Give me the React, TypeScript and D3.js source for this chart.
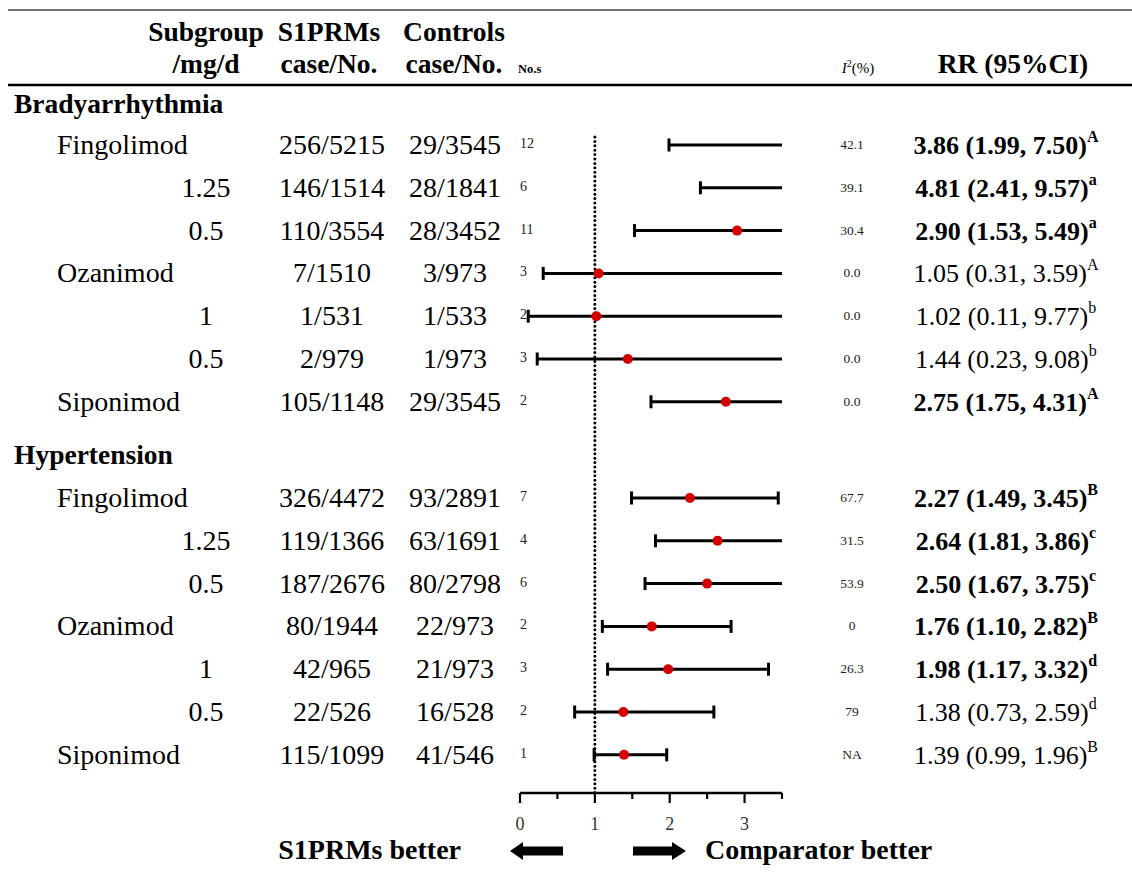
import * as d3 from "d3";

// table rows (two outcome groups, 7 rows each)
const groupNames = ["Bradyarrhythmia", "Hypertension"];
const rowGroup = [0, 0, 0, 0, 0, 0, 0, 1, 1, 1, 1, 1, 1, 1];
const rowLabel = ["Fingolimod", "1.25", "0.5", "Ozanimod", "1", "0.5", "Siponimod",
  "Fingolimod", "1.25", "0.5", "Ozanimod", "1", "0.5", "Siponimod"];
const rowIsDose = [false, true, true, false, true, true, false,
  false, true, true, false, true, true, false];
const s1prmCases = ["256/5215", "146/1514", "110/3554", "7/1510", "1/531", "2/979", "105/1148",
  "326/4472", "119/1366", "187/2676", "80/1944", "42/965", "22/526", "115/1099"];
const controlCases = ["29/3545", "28/1841", "28/3452", "3/973", "1/533", "1/973", "29/3545",
  "93/2891", "63/1691", "80/2798", "22/973", "21/973", "16/528", "41/546"];
const studyCounts = [12, 6, 11, 3, 2, 3, 2, 7, 4, 6, 2, 3, 2, 1];
const i2Values = ["42.1", "39.1", "30.4", "0.0", "0.0", "0.0", "0.0",
  "67.7", "31.5", "53.9", "0", "26.3", "79", "NA"];
const rrValues = [3.86, 4.81, 2.9, 1.05, 1.02, 1.44, 2.75, 2.27, 2.64, 2.5, 1.76, 1.98, 1.38, 1.39];
const ciLow = [1.99, 2.41, 1.53, 0.31, 0.11, 0.23, 1.75, 1.49, 1.81, 1.67, 1.1, 1.17, 0.73, 0.99];
const ciHigh = [7.5, 9.57, 5.49, 3.59, 9.77, 9.08, 4.31, 3.45, 3.86, 3.75, 2.82, 3.32, 2.59, 1.96];
const superscripts = ["A", "a", "a", "A", "b", "b", "A", "B", "c", "c", "B", "d", "d", "B"];

const majorTicks = [0, 1, 2, 3];
const minorTicks = [0.5, 1.5, 2.5, 3.5];

const W = 1132;
const H = 884;
const serif = "'Liberation Serif', 'Times New Roman', serif";

export default function App() {
  const x = d3.scaleLinear().domain([0, 3.5]).range([520, 782]);
  const headerY = [104, 455];
  const firstRowY = [145, 498];
  const rowStep = d3.scaleLinear().domain([0, 6]).range([0, 6 * 42.8]);
  const rowY = (i: number) => firstRowY[rowGroup[i]] + rowStep(i % 7);
  const axisY = 793;
  const fmt = d3.format(".2f");
  const clamp = (v: number) => Math.max(0, Math.min(3.5, v));

  return (
    <svg width={W} height={H} style={{ position: "absolute", left: 0, top: 0, background: "#fff" }}
      fontFamily={serif}>
      {/* table rules */}
      <line x1={8} x2={W} y1={10} y2={10} stroke="#444" strokeWidth={1.6} />
      <line x1={8} x2={W} y1={85} y2={85} stroke="#000" strokeWidth={2.6} />

      {/* column headers */}
      <g fontWeight="bold" fontSize={27.5} textAnchor="middle">
        <text x={206} y={41}>Subgroup</text>
        <text x={206} y={73}>/mg/d</text>
        <text x={329} y={41}>S1PRMs</text>
        <text x={329} y={73}>case/No.</text>
        <text x={454} y={41}>Controls</text>
        <text x={454} y={73}>case/No.</text>
        <text x={1013} y={73}>RR (95%CI)</text>
      </g>
      <text x={518} y={73} fontSize={12.5} fontWeight="bold">No.s</text>
      <text x={858} y={73} fontSize={15} textAnchor="middle">
        <tspan fontStyle="italic">I</tspan>
        <tspan dy={-6} fontSize={10}>2</tspan>
        <tspan dy={6}>(%)</tspan>
      </text>

      {/* group headers */}
      {groupNames.map((g, gi) => (
        <text key={g} x={14} y={headerY[gi] + 9} fontSize={27.5} fontWeight="bold">{g}</text>
      ))}

      {/* table text */}
      {rowLabel.map((lab, i) => {
        const y = rowY(i);
        const sig = ciLow[i] > 1;
        return (
          <g key={i}>
            <text x={rowIsDose[i] ? 206 : 57} y={y + 9} fontSize={28}
              textAnchor={rowIsDose[i] ? "middle" : "start"}>{lab}</text>
            <text x={332} y={y + 9} fontSize={28} textAnchor="middle">{s1prmCases[i]}</text>
            <text x={455} y={y + 9} fontSize={28} textAnchor="middle">{controlCases[i]}</text>
            <text x={520} y={y + 3} fontSize={14} fill="#222">{studyCounts[i]}</text>
            <text x={852} y={y + 4} fontSize={13.5} fill="#222" textAnchor="middle">{i2Values[i]}</text>
            <text x={1006} y={y + 9} fontSize={26} textAnchor="middle" fontWeight={sig ? "bold" : "normal"}>
              {`${fmt(rrValues[i])} (${fmt(ciLow[i])}, ${fmt(ciHigh[i])})`}
              <tspan dy={-12} fontSize={16}>{superscripts[i]}</tspan>
            </text>
          </g>
        );
      })}

      {/* reference line at RR = 1 */}
      <line x1={x(1)} x2={x(1)} y1={137} y2={axisY} stroke="#000" strokeWidth={3}
        strokeDasharray="0 4.4" strokeLinecap="round" />

      {/* confidence intervals */}
      {rrValues.map((rr, i) => {
        const y = rowY(i);
        const x0 = x(clamp(ciLow[i]));
        const x1 = x(clamp(ciHigh[i]));
        return (
          <g key={i}>
            <line x1={x0} x2={x1} y1={y} y2={y} stroke="#000" strokeWidth={3} />
            {ciLow[i] >= 0 && ciLow[i] <= 3.5 && (
              <line x1={x0} x2={x0} y1={y - 6.5} y2={y + 6.5} stroke="#000" strokeWidth={3} />
            )}
            {ciHigh[i] <= 3.5 && (
              <line x1={x1} x2={x1} y1={y - 6.5} y2={y + 6.5} stroke="#000" strokeWidth={3} />
            )}
            {rr <= 3.5 && <circle cx={x(rr)} cy={y} r={5} fill="#d40000" />}
          </g>
        );
      })}

      {/* axis */}
      <line x1={x(0)} x2={x(3.5)} y1={axisY} y2={axisY} stroke="#000" strokeWidth={2.5} />
      {majorTicks.map((t) => (
        <g key={t}>
          <line x1={x(t)} x2={x(t)} y1={axisY} y2={axisY + 10} stroke="#000" strokeWidth={2.2} />
          <text x={x(t)} y={axisY + 37} fontSize={18} fill="#333" textAnchor="middle">{t}</text>
        </g>
      ))}
      {minorTicks.map((t) => (
        <line key={t} x1={x(t)} x2={x(t)} y1={axisY} y2={axisY + 6} stroke="#000" strokeWidth={2.2} />
      ))}

      {/* direction labels */}
      <path d="M510,851 L523,842 L523,846.5 L563,846.5 L563,855.5 L523,855.5 L523,860 Z" fill="#000" />
      <path d="M633,846.5 L672,846.5 L672,842 L686,851 L672,860 L672,855.5 L633,855.5 Z" fill="#000" />
      <text x={461} y={859} fontSize={28} fontWeight="bold" textAnchor="end">S1PRMs better</text>
      <text x={705} y={859} fontSize={28} fontWeight="bold">Comparator better</text>
    </svg>
  );
}
